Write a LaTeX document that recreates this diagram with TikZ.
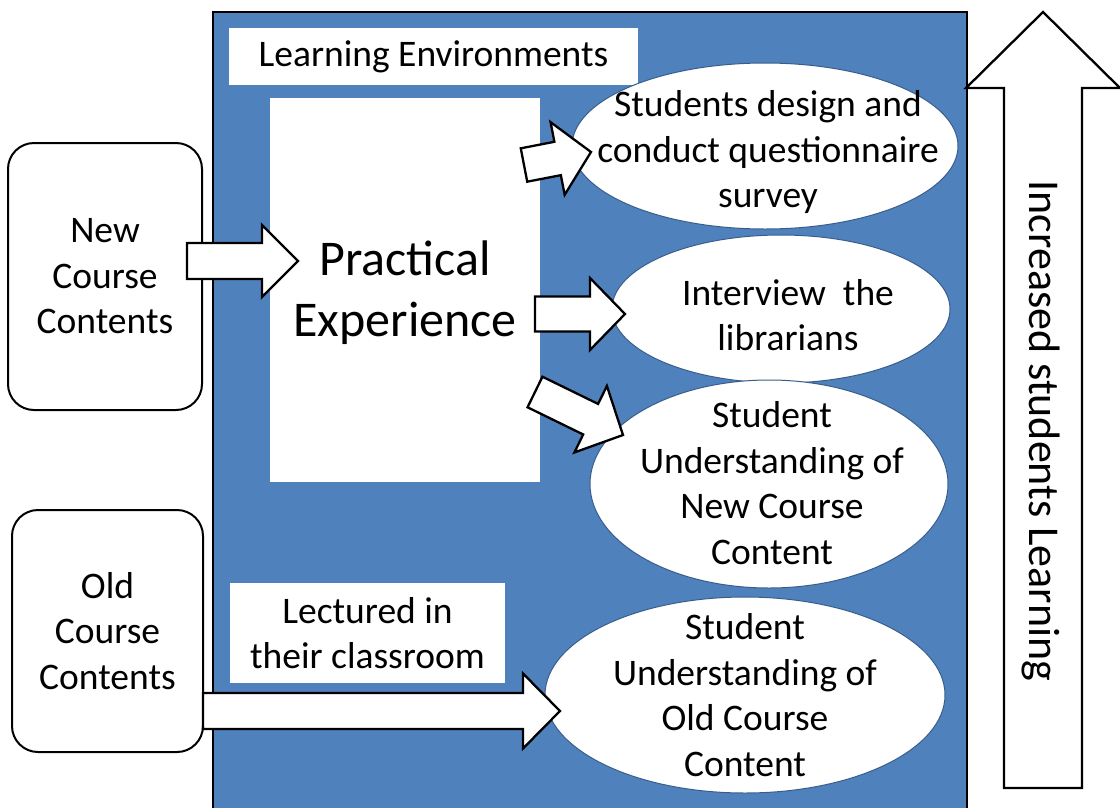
\documentclass[tikz,border=0pt]{standalone}
\usepackage{fontspec}
\setmainfont{Carlito}
\usetikzlibrary{shapes,calc,positioning}

\definecolor{envblue}{RGB}{79,129,189}
\definecolor{rimblue}{RGB}{56,93,138}

\newcommand{\mainsize}{\fontsize{37.5}{45.5}\selectfont}
\newcommand{\practsize}{\fontsize{50}{61}\selectfont}

% block arrow: from, to, shaft half width, head half width, head length
\newcommand{\fatarrow}[5]{%
  \coordinate (fh) at ($(#2)!#5!(#1)$);
  \draw[blockarr] ($(#1)!#3!90:(#2)$) -- ($(fh)!#3!90:(#2)$) -- ($(fh)!#4!90:(#2)$) -- (#2)
    -- ($(fh)!#4!-90:(#2)$) -- ($(fh)!#3!-90:(#2)$) -- ($(#1)!#3!-90:(#2)$) -- cycle;
}

\tikzset{
  contentbox/.style={draw, line width=2pt, rounded corners=26pt, fill=white, align=center, inner sep=0pt, font=\mainsize},
  whitebox/.style={fill=white, align=center, inner sep=0pt, font=\mainsize},
  bubble/.style={ellipse, fill=white, draw=rimblue, line width=1pt, inner sep=0pt},
  txt/.style={align=center, inner sep=0pt, font=\mainsize},
  blockarr/.style={draw, fill=white, line width=2.3pt, line join=miter}
}

\begin{document}
\begin{tikzpicture}[x=1pt, y=-1pt]
\useasboundingbox (0,0) rectangle (1120,807);

% the blue panel runs off the bottom of the page
\draw[line width=2pt, fill=envblue] (213,12) rectangle (967,840);

\node[whitebox, minimum width=409pt, minimum height=57pt] (env) at (433.5,56.5) {Learning Environments};
\node[whitebox, minimum width=270pt, minimum height=384pt] (prac) at (405,290) {};
\node[txt, font=\practsize] (practxt) at (405,293) {Practical\\Experience};
\node[whitebox, minimum width=275pt, minimum height=100pt] (lect) at (367.5,633) {Lectured in\\their classroom};

% course contents on the left
\node[contentbox, minimum width=194pt, minimum height=267pt] (new) at (105,276.5) {New\\Course\\Contents};
\node[contentbox, minimum width=191pt, minimum height=242pt] (old) at (107.5,631) {Old\\Course\\Contents};

% outcomes
\node[bubble, minimum width=386pt, minimum height=166pt] (survey) at (765,146) {};
\node[txt] (surveytxt) at (768,152) {Students design and\\conduct questionnaire\\survey};
\node[bubble, minimum width=338pt, minimum height=148pt] (interview) at (781,309) {};
\node[txt] (interviewtxt) at (788,315) {Interview\ \ the\\librarians};
\node[bubble, minimum width=358pt, minimum height=208pt] (newund) at (769,484) {};
\node[txt] (newundtxt) at (772,483) {Student\\Understanding of\\New Course\\Content};
\node[bubble, minimum width=400pt, minimum height=196pt] (oldund) at (745,695) {};
\node[txt] (oldundtxt) at (745,695) {Student\\Understanding of\\Old Course\\Content};

% arrow ends
\coordinate (a1s) at (187,261);  \coordinate (a1e) at (298,261);
\coordinate (a2s) at (535,314);  \coordinate (a2e) at (625,314);
\coordinate (a3s) at (535,392);  \coordinate (a3e) at (623,435);
\coordinate (a4s) at (524,165);  \coordinate (a4e) at (591,152);
\coordinate (a5s) at (203,711);  \coordinate (a5e) at (560,711);
\coordinate (ups) at (1043,788); \coordinate (upe) at (1043,12);

\fatarrow{a1s}{a1e}{18pt}{36pt}{36pt}
\fatarrow{a2s}{a2e}{17.5pt}{36pt}{35pt}
\fatarrow{a3s}{a3e}{17pt}{37pt}{36pt}
\fatarrow{a4s}{a4e}{17pt}{37pt}{34pt}
\fatarrow{a5s}{a5e}{18pt}{37.5pt}{37pt}
\fatarrow{ups}{upe}{39pt}{77pt}{76pt}

\node[txt, rotate=-90, font=\fontsize{44}{52}\selectfont] (rise) at (1041,431) {Increased students Learning};
\end{tikzpicture}
\end{document}
